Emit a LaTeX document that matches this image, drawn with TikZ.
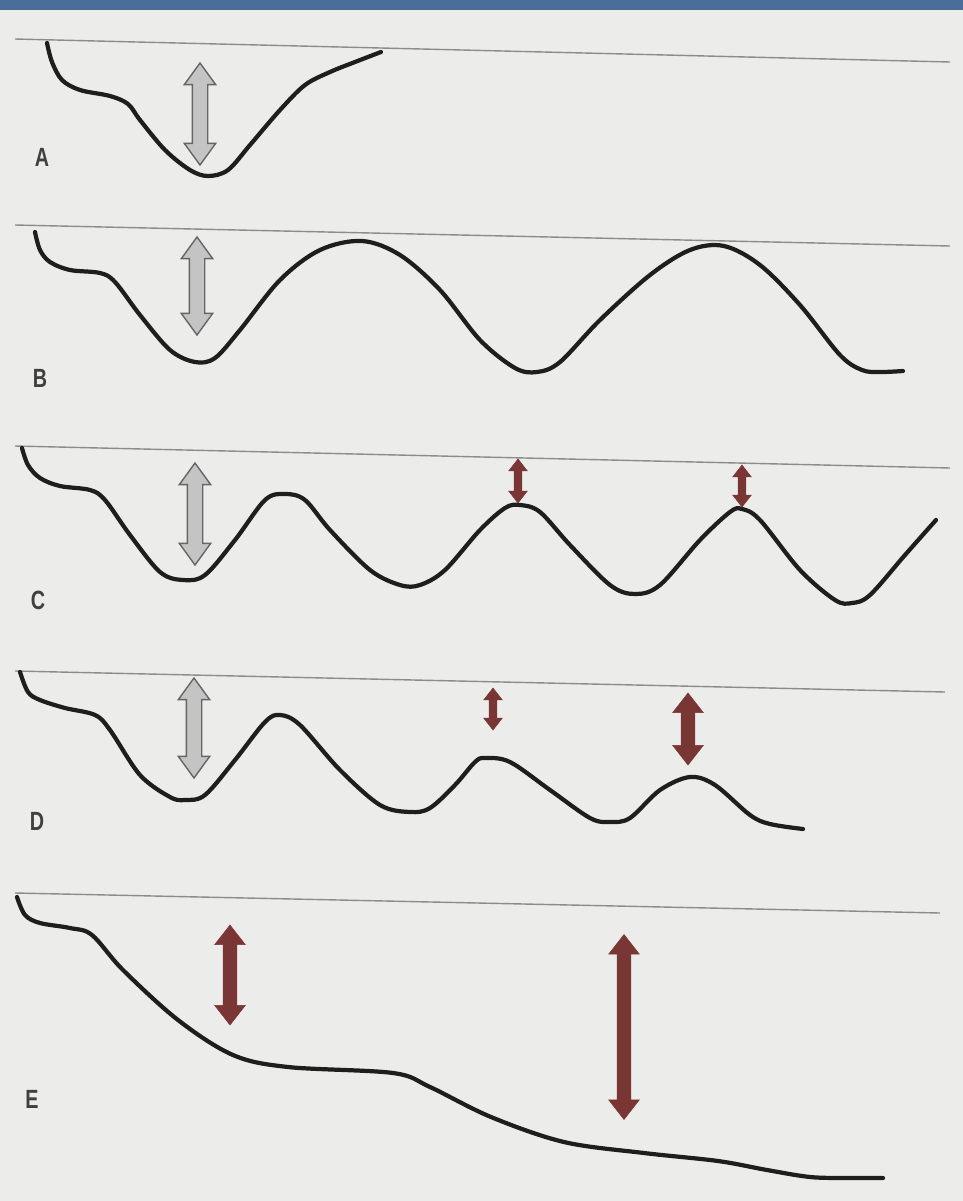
\documentclass[tikz,border=0pt]{standalone}
\usepackage{fontspec}
\setsansfont{Liberation Sans}
\usepackage{xcolor}
\definecolor{paper}{HTML}{ECECEA}
\definecolor{topbar}{HTML}{4B6D99}
\definecolor{rule}{HTML}{8C8C8C}
\definecolor{ink}{HTML}{1E1E1E}
\definecolor{greyfill}{HTML}{C4C4C4}
\definecolor{greyline}{HTML}{666666}
\definecolor{maroon}{HTML}{7A3535}
\usepackage{tikz}
\usetikzlibrary{shapes.arrows}

\begin{document}
\begin{tikzpicture}[
  x=0.02cm, y=-0.02cm,
  surface/.style={ink, line width=2.4pt, line cap=round},
  level/.style={rule, line width=0.8pt},
  panel/.style={text=ink!85, font=\sffamily\bfseries\fontsize{15}{15}\selectfont, xscale=0.75},
  grayarrow/.style={double arrow, rotate=90, draw=greyline, fill=greyfill, line width=0.8pt,
    inner xsep=0pt, inner ysep=0.14cm, double arrow head extend=0.16cm, double arrow tip angle=72},
  redarrow/.style={double arrow, rotate=90, draw=maroon, fill=maroon, line width=0.3pt,
    inner xsep=0pt, inner ysep=0.13cm, double arrow head extend=0.17cm, double arrow tip angle=76},
  thinarrow/.style={redarrow, inner ysep=0.07cm, double arrow head extend=0.11cm}
]
  % page
  \fill[paper] (0,0) rectangle (963,1201);
  \fill[topbar] (0,0) rectangle (963,10);

  % A
  \draw[level] (15,39) -- (950,62);
  \draw[surface] plot[smooth, tension=0.55] coordinates {(47,43) (52,62) (62,80) (80,90) (110,96)
    (128,104) (140,120) (165,150) (190,170) (208,176) (228,170) (250,145) (280,110) (305,85)
    (330,72) (355,62) (381,52)};
  \node[grayarrow, minimum height=2.04cm] (a1) at (200,114) {};
  \node[panel] (labA) at (42,157) {A};

  % B
  \draw[level] (15,225) -- (950,246);
  \draw[surface] plot[smooth, tension=0.55] coordinates {(35,232) (40,250) (50,262) (70,270)
    (100,273) (115,282) (140,315) (170,350) (195,362) (215,358) (240,330) (280,280) (320,250)
    (362,241) (400,255) (440,290) (480,340) (515,368) (537,372) (560,362) (600,320) (650,275)
    (690,250) (724,246) (760,265) (800,305) (840,355) (862,370) (880,372) (903,371)};
  \node[grayarrow, minimum height=1.96cm] (b1) at (197,286) {};
  \node[panel] (labB) at (40,378) {B};

  % C
  \draw[level] (15,446) -- (950,468);
  \draw[surface] plot[smooth, tension=0.55] coordinates {(22,448) (28,465) (40,478) (60,486)
    (90,490) (105,500) (130,535) (160,572) (183,580) (205,575) (235,540) (265,500) (285,494)
    (305,500) (330,530) (370,570) (400,585) (420,585) (445,570) (480,530) (505,508) (520,505)
    (540,512) (570,545) (610,585) (635,594) (660,585) (700,540) (730,512) (742,509) (760,520)
    (800,570) (835,600) (852,603) (870,595) (905,555) (936,520)};
  \node[grayarrow, minimum height=2.04cm] (c1) at (195,514) {};
  \node[thinarrow, minimum height=0.88cm] (c2) at (518,481) {};
  \node[thinarrow, minimum height=0.84cm] (c3) at (742,486) {};
  \node[panel] (labC) at (38,600) {C};

  % D
  \draw[level] (15,671) -- (945,692);
  \draw[surface] plot[smooth, tension=0.55] coordinates {(20,672) (28,692) (40,700) (65,708)
    (95,715) (110,730) (140,775) (170,797) (185,800) (205,795) (235,760) (265,722) (280,715)
    (300,725) (340,770) (380,805) (410,812) (430,808) (455,785) (475,762) (485,758) (510,762)
    (550,790) (590,818) (610,822) (630,818) (660,790) (690,777) (715,785) (750,815) (770,824)
    (803,829)};
  \node[grayarrow, minimum height=2.0cm] (d1) at (194,728) {};
  \node[thinarrow, minimum height=0.84cm] (d2) at (493,709) {};
  \node[redarrow, minimum height=1.44cm] (d3) at (688,729) {};
  \node[panel] (labD) at (37,821) {D};

  % E
  \draw[level] (15,893) -- (940,913);
  \draw[surface] plot[smooth, tension=0.55] coordinates {(17,897) (25,915) (40,923) (70,928)
    (92,935) (123,970) (178,1020) (233,1055) (288,1067) (393,1073) (430,1087) (491,1117)
    (564,1142) (644,1153) (718,1161) (767,1170) (810,1177) (847,1178) (883,1178)};
  \node[redarrow, minimum height=2.0cm] (e1) at (230,975) {};
  \node[redarrow, minimum height=3.7cm] (e2) at (624,1027) {};
  \node[panel] (labE) at (32,1099) {E};
\end{tikzpicture}
\end{document}
